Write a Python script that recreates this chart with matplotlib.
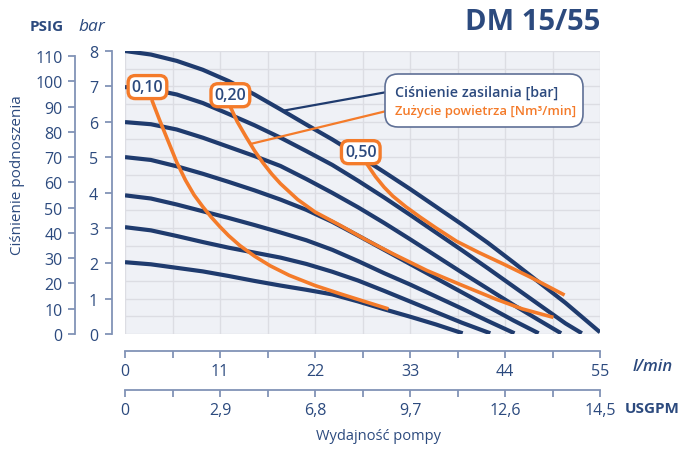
import numpy as np
import matplotlib
matplotlib.use('Agg')
import matplotlib.pyplot as plt
from matplotlib.patches import FancyBboxPatch

plt.rcParams['font.family'] = ['Open Sans', 'DejaVu Sans']

# Supply pressure curves [bar]: flow l/min -> discharge pressure bar
c8_x = [0, 3, 6, 9, 12, 15, 18, 21, 24, 27, 30, 33, 36, 39, 42, 45, 48, 51, 55]
c8_y = [8.0, 7.9, 7.72, 7.47, 7.15, 6.77, 6.35, 5.92, 5.5, 5.05, 4.58, 4.1, 3.6, 3.1, 2.58, 2.02, 1.45, 0.88, 0.05]
c7_x = [0, 3, 6, 9, 12, 15, 18, 21, 24, 27, 30, 33, 36, 39, 42, 45, 48, 51, 52.9]
c7_y = [6.98, 6.92, 6.77, 6.53, 6.22, 5.9, 5.55, 5.17, 4.78, 4.33, 3.86, 3.37, 2.87, 2.37, 1.86, 1.34, 0.82, 0.3, 0.02]
c6_x = [0, 3, 6, 9, 12, 15, 18, 21, 24, 27, 30, 33, 36, 39, 42, 45, 48, 50.5]
c6_y = [5.99, 5.93, 5.78, 5.55, 5.29, 5.03, 4.75, 4.38, 3.99, 3.58, 3.14, 2.68, 2.21, 1.74, 1.28, 0.82, 0.38, 0.02]
c5_x = [0, 3, 6, 9, 12, 15, 18, 21, 24, 27, 30, 33, 36, 39, 42, 45, 47.9]
c5_y = [5.0, 4.92, 4.74, 4.53, 4.3, 4.06, 3.8, 3.51, 3.17, 2.78, 2.38, 1.98, 1.58, 1.18, 0.78, 0.38, 0.02]
c4_x = [0, 3, 6, 9, 12, 15, 18, 21, 24, 27, 30, 33, 36, 39, 42, 45.1]
c4_y = [3.92, 3.83, 3.66, 3.47, 3.28, 3.08, 2.87, 2.65, 2.38, 2.06, 1.72, 1.4, 1.06, 0.72, 0.37, 0.02]
c3_x = [0, 3, 6, 9, 12, 15, 18, 21, 24, 27, 30, 33, 36, 39, 42.3]
c3_y = [3.02, 2.93, 2.77, 2.6, 2.44, 2.3, 2.16, 1.98, 1.76, 1.51, 1.22, 0.92, 0.62, 0.32, 0.02]
c2_x = [0, 3, 6, 9, 12, 15, 18, 21, 24, 27, 30, 33, 36, 39.1]
c2_y = [2.03, 1.97, 1.87, 1.77, 1.64, 1.5, 1.37, 1.25, 1.12, 0.92, 0.7, 0.49, 0.27, 0.02]

# Air consumption curves [Nm3/min]
a10_x = [3.1, 4, 5, 6, 7, 8, 9, 10, 11, 12, 13.3, 15, 16.8, 19, 22, 25, 28, 30.5]
a10_y = [6.62, 6.05, 5.45, 4.85, 4.35, 3.93, 3.6, 3.3, 3.03, 2.78, 2.5, 2.2, 1.93, 1.66, 1.37, 1.13, 0.9, 0.71]
a20_x = [12.2, 13, 14, 15, 16, 17, 18, 20, 22, 25, 28, 31, 35, 39, 43, 46, 49.6]
a20_y = [6.42, 6.0, 5.58, 5.18, 4.83, 4.52, 4.25, 3.8, 3.45, 3.06, 2.65, 2.27, 1.79, 1.38, 0.98, 0.71, 0.47]
a50_x = [28, 29, 30, 31, 32.5, 34.2, 36, 38.4, 41, 43.8, 47, 50.9]
a50_y = [4.81, 4.45, 4.15, 3.9, 3.6, 3.3, 3.0, 2.62, 2.3, 1.98, 1.6, 1.1]

air_labels = ['0,10', '0,20', '0,50']
air_label_pos = [(2.6, 6.98), (12.2, 6.75), (27.3, 5.14)]

lpm_ticks = [0, 11, 22, 33, 44, 55]
usgpm_labels = ['0', '2,9', '6,8', '9,7', '12,6', '14,5']
bar_ticks = [0, 1, 2, 3, 4, 5, 6, 7, 8]
psig_ticks = [0, 10, 20, 30, 40, 50, 60, 70, 80, 90, 100, 110]

navy = '#1f3b6e'
orange = '#f47b2a'
axcol = '#8193b6'
txtcol = '#2c4a7e'

W, H = 683, 452
fig = plt.figure(figsize=(W / 100, H / 100), dpi=100)
ax = fig.add_axes([125 / W, (H - 335) / H, 475 / W, 283 / H])
ax.set_facecolor('#eff1f6')
ax.set_xlim(0, 55)
ax.set_ylim(0, 8)
ax.set_axisbelow(True)

for s in ['top', 'right']:
    ax.spines[s].set_visible(False)
ax.spines['left'].set_position(('outward', 9.4))
ax.spines['bottom'].set_position(('outward', 12.2))
ax.spines['left'].set_bounds(0, 8)
ax.spines['bottom'].set_bounds(0, 55)
for s in ['left', 'bottom']:
    ax.spines[s].set_color(axcol)
    ax.spines[s].set_linewidth(1.3)

ax.set_xticks(lpm_ticks)
ax.set_xticks(np.arange(0, 56, 5.5), minor=True)
ax.set_yticks(bar_ticks)
ax.set_yticks(np.arange(0, 8.01, 0.5), minor=True)
ax.tick_params(which='both', colors=axcol, labelcolor=txtcol, labelsize=11.5, width=1.3)
ax.tick_params(axis='y', which='major', length=5, pad=5)
ax.tick_params(axis='y', which='minor', length=0)
ax.tick_params(axis='x', which='both', length=5, pad=4)
ax.grid(which='both', color='#dcdde3', lw=1.0)

# PSIG axis
ax2 = ax.twinx()
ax2.set_ylim(0, 112)
for s in ['top', 'right', 'bottom']:
    ax2.spines[s].set_visible(False)
ax2.spines['left'].set_visible(True)
ax2.spines['left'].set_position(('outward', 36))
ax2.spines['left'].set_bounds(0, 110)
ax2.spines['left'].set_color(axcol)
ax2.spines['left'].set_linewidth(1.3)
ax2.yaxis.set_ticks_position('left')
ax2.set_yticks(psig_ticks)
ax2.tick_params(colors=axcol, labelcolor=txtcol, labelsize=11.5, length=5, width=1.3, pad=4)

# USGPM axis
ax3 = ax.twiny()
ax3.set_xlim(0, 55)
for s in ['top', 'right', 'left']:
    ax3.spines[s].set_visible(False)
ax3.spines['bottom'].set_visible(True)
ax3.spines['bottom'].set_position(('outward', 40.3))
ax3.spines['bottom'].set_bounds(0, 55)
ax3.spines['bottom'].set_color(axcol)
ax3.spines['bottom'].set_linewidth(1.3)
ax3.xaxis.set_ticks_position('bottom')
ax3.set_xticks(lpm_ticks)
ax3.set_xticklabels(usgpm_labels)
ax3.set_xticks(np.arange(0, 56, 5.5), minor=True)
ax3.tick_params(which='both', colors=axcol, labelcolor=txtcol, labelsize=11.5, length=5, width=1.3, pad=4)

# curves
for xs, ys in [(c8_x, c8_y), (c7_x, c7_y), (c6_x, c6_y), (c5_x, c5_y),
               (c4_x, c4_y), (c3_x, c3_y), (c2_x, c2_y)]:
    ax.plot(xs, ys, color=navy, lw=3.0, solid_capstyle='butt', solid_joinstyle='round', zorder=3)
for xs, ys in [(a10_x, a10_y), (a20_x, a20_y), (a50_x, a50_y)]:
    ax.plot(xs, ys, color=orange, lw=2.6, solid_capstyle='butt', solid_joinstyle='round', zorder=4)

# leader lines
ax.plot([31.0, 18.5], [6.87, 6.32], color=navy, lw=1.6, zorder=4)
ax.plot([31.07, 14.67], [6.35, 5.38], color=orange, lw=1.6, zorder=4)

for lab, (lx, ly) in zip(air_labels, air_label_pos):
    ax.text(lx, ly, lab, ha='center', va='center', fontsize=11.5, color=txtcol, zorder=6,
            fontweight='semibold',
            bbox=dict(boxstyle='round,pad=0.22,rounding_size=0.45', fc='white', ec=orange, lw=2.4))

# legend box
box = FancyBboxPatch((385 / W, 1 - 128 / H), 198 / W, 53 / H,
                     boxstyle='round,pad=0,rounding_size=%f' % (13 / W),
                     mutation_aspect=W / H, transform=fig.transFigure,
                     fc='white', ec='#5f7096', lw=1.2, zorder=5)
fig.patches.append(box)
fig.text(395 / W, 1 - 93 / H, 'Ciśnienie zasilania [bar]', color=txtcol, fontsize=10.3,
         fontweight='semibold', va='center', ha='left', zorder=7)
fig.text(395 / W, 1 - 111 / H, 'Zużycie powietrza [Nm³/min]', color=orange, fontsize=9.4,
         fontweight='semibold', va='center', ha='left', zorder=7)

# text
fig.text(600 / W, 1 - 22 / H, 'DM 15/55', color=txtcol, fontsize=21, fontweight='bold',
         ha='right', va='center')
fig.text(47 / W, 1 - 27 / H, 'PSIG', color=txtcol, fontsize=11, fontweight='bold',
         ha='center', va='center')
fig.text(92 / W, 1 - 27 / H, 'bar', color=txtcol, fontsize=12.5, style='italic',
         ha='center', va='center')
fig.text(18 / W, 1 - 175 / H, 'Ciśnienie podnoszenia', color=txtcol, fontsize=11,
         rotation=90, ha='center', va='center')
fig.text(653 / W, 1 - 367 / H, 'l/min', color=txtcol, fontsize=12, style='italic',
         fontweight='semibold', ha='center', va='center')
fig.text(680 / W, 1 - 409 / H, 'USGPM', color=txtcol, fontsize=11, fontweight='bold',
         ha='right', va='center')
fig.text(378 / W, 1 - 437 / H, 'Wydajność pompy', color=txtcol, fontsize=10.5,
         ha='center', va='center')

fig.savefig('out.png', dpi=100)
